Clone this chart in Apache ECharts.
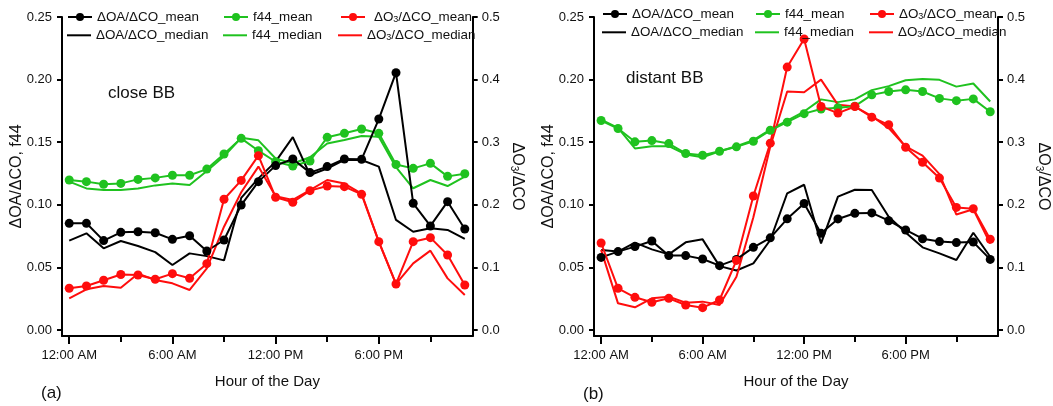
<!DOCTYPE html>
<html>
<head>
<meta charset="utf-8">
<script src="https://cdn.jsdelivr.net/npm/echarts@6/dist/echarts.min.js"></script>
<style>
  html, body { margin: 0; padding: 0; background: #fff; }
  #chart { width: 1053px; height: 406px; }
</style>
</head>
<body>
<div id="chart"></div>
<script>
// Diurnal profiles (hour 0..23) for close and distant biomass-burning plumes.
const hourTicks = [0, 6, 12, 18];
const hourTickLabels = ['12:00 AM', '6:00 AM', '12:00 PM', '6:00 PM'];
const minorHourTicks = [3, 9, 15, 21];
const leftTicks = [0, 0.05, 0.10, 0.15, 0.20, 0.25];
const rightTicks = [0, 0.1, 0.2, 0.3, 0.4, 0.5];

// (a) close BB
const oaMeanA   = [0.0852, 0.0852, 0.0714, 0.0780, 0.0785, 0.0777, 0.0724, 0.0753, 0.0631, 0.0719, 0.0998, 0.1185, 0.1313, 0.1366, 0.1257, 0.1305, 0.1366, 0.1363, 0.1685, 0.2055, 0.1012, 0.0831, 0.1025, 0.0807];
const oaMedianA = [0.0714, 0.0772, 0.0652, 0.0711, 0.0671, 0.0622, 0.0519, 0.0612, 0.0590, 0.0556, 0.1055, 0.1211, 0.1345, 0.1540, 0.1238, 0.1290, 0.1358, 0.1358, 0.1305, 0.0879, 0.0785, 0.0812, 0.0799, 0.0727];
const f44MeanA   = [0.1198, 0.1185, 0.1164, 0.1171, 0.1203, 0.1215, 0.1236, 0.1236, 0.1285, 0.1406, 0.1531, 0.1432, 0.1344, 0.1310, 0.1350, 0.1539, 0.1571, 0.1605, 0.1571, 0.1322, 0.1291, 0.1331, 0.1227, 0.1248];
const f44MedianA = [0.1185, 0.1131, 0.1118, 0.1118, 0.1131, 0.1155, 0.1170, 0.1158, 0.1270, 0.1388, 0.1535, 0.1515, 0.1370, 0.1330, 0.1380, 0.1490, 0.1518, 0.1550, 0.1544, 0.1300, 0.1132, 0.1198, 0.1150, 0.1225];
const o3MeanA   = [0.0666, 0.0703, 0.0795, 0.0887, 0.0879, 0.0810, 0.0900, 0.0826, 0.1060, 0.2088, 0.2390, 0.2785, 0.2120, 0.2040, 0.2226, 0.2300, 0.2290, 0.2167, 0.1411, 0.0735, 0.1411, 0.1475, 0.1198, 0.0719];
const o3MedianA = [0.0506, 0.0650, 0.0703, 0.0676, 0.0900, 0.0800, 0.0745, 0.0639, 0.0985, 0.1650, 0.2200, 0.2610, 0.2135, 0.2077, 0.2236, 0.2396, 0.2340, 0.2180, 0.1411, 0.0735, 0.1065, 0.1267, 0.0825, 0.0559];

// (b) distant BB
const oaMeanB   = [0.0580, 0.0626, 0.0666, 0.0711, 0.0594, 0.0594, 0.0567, 0.0514, 0.0564, 0.0660, 0.0736, 0.0888, 0.1010, 0.0772, 0.0887, 0.0932, 0.0935, 0.0873, 0.0799, 0.0729, 0.0706, 0.0698, 0.0702, 0.0564];
const oaMedianB = [0.0639, 0.0626, 0.0698, 0.0644, 0.0604, 0.0700, 0.0724, 0.0510, 0.0475, 0.0532, 0.0719, 0.1092, 0.1160, 0.0692, 0.1065, 0.1120, 0.1118, 0.0905, 0.0778, 0.0660, 0.0612, 0.0559, 0.0777, 0.0585];
const f44MeanB   = [0.1673, 0.1609, 0.1503, 0.1513, 0.1489, 0.1410, 0.1396, 0.1428, 0.1463, 0.1508, 0.1595, 0.1660, 0.1728, 0.1765, 0.1776, 0.1788, 0.1878, 0.1905, 0.1918, 0.1905, 0.1850, 0.1832, 0.1846, 0.1743];
const f44MedianB = [0.1681, 0.1614, 0.1450, 0.1468, 0.1468, 0.1402, 0.1380, 0.1428, 0.1468, 0.1516, 0.1600, 0.1672, 0.1745, 0.1842, 0.1820, 0.1842, 0.1916, 0.1948, 0.1995, 0.2005, 0.1998, 0.1944, 0.1969, 0.1825];
const o3MeanB   = [0.1390, 0.0666, 0.0522, 0.0442, 0.0506, 0.0399, 0.0357, 0.0479, 0.1112, 0.2140, 0.2985, 0.4200, 0.4649, 0.3570, 0.3465, 0.3570, 0.3400, 0.3278, 0.2920, 0.2680, 0.2427, 0.1958, 0.1937, 0.1450];
const o3MedianB = [0.1280, 0.0426, 0.0362, 0.0506, 0.0532, 0.0437, 0.0453, 0.0399, 0.0850, 0.1800, 0.2930, 0.3810, 0.3797, 0.4000, 0.3597, 0.3570, 0.3417, 0.3225, 0.2932, 0.2786, 0.2490, 0.1844, 0.1928, 0.1380];

const FONT = '"Liberation Sans", Arial, sans-serif';
const INK = '#111';
const BLACK = '#000000';
const GREEN = '#1fc21f';
const RED = '#ff0d0d';

const SUB = { sub: { fontSize: 9, verticalAlign: 'bottom', lineHeight: 14, fontFamily: FONT, color: INK } };
const legendText = {
  'ΔOA/ΔCO_mean': 'ΔOA/ΔCO_mean',
  'ΔOA/ΔCO_median': 'ΔOA/ΔCO_median',
  'f44_mean': 'f44_mean',
  'f44_median': 'f44_median',
  'ΔO3/ΔCO_mean': 'ΔO{sub|3}/ΔCO_mean',
  'ΔO3/ΔCO_median': 'ΔO{sub|3}/ΔCO_median'
};

const toPairs = arr => arr.map((v, i) => [i, v]);

const panels = [
  { grid: { left: 62, right: 580.3, top: 17, bottom: 70 },
    oaMean: oaMeanA, oaMedian: oaMedianA, f44Mean: f44MeanA, f44Median: f44MedianA, o3Mean: o3MeanA, o3Median: o3MedianA },
  { grid: { left: 594, right: 50.3, top: 17, bottom: 70 },
    oaMean: oaMeanB, oaMedian: oaMedianB, f44Mean: f44MeanB, f44Median: f44MedianB, o3Mean: o3MeanB, o3Median: o3MedianB }
];

const axisLineStyle = { color: BLACK, width: 2 };
const labelStyle = { fontSize: 13, color: INK, fontFamily: FONT };

const grid = [], xAxis = [], yAxis = [], series = [];

panels.forEach((p, gi) => {
  grid.push(p.grid);
  // main hour axis with labelled ticks
  xAxis.push({
    gridIndex: gi, type: 'value', min: -0.42, max: 23.46, position: 'bottom',
    axisLine: { show: true, onZero: false, lineStyle: axisLineStyle },
    axisTick: { show: true, customValues: hourTicks, length: 8, lineStyle: { color: BLACK, width: 2 } },
    axisLabel: Object.assign({ customValues: hourTicks, margin: 13,
      formatter: v => hourTickLabels[hourTicks.indexOf(v)] }, labelStyle),
    splitLine: { show: false },
    name: 'Hour of the Day', nameLocation: 'middle', nameGap: 38,
    nameTextStyle: { fontSize: 15, color: INK, fontFamily: FONT }
  });
  // short in-between ticks every 3 hours
  xAxis.push({
    gridIndex: gi, type: 'value', min: -0.42, max: 23.46, position: 'bottom',
    axisLine: { show: false, onZero: false },
    axisTick: { show: true, customValues: minorHourTicks, length: 6, lineStyle: { color: BLACK, width: 2 } },
    axisLabel: { show: false },
    splitLine: { show: false }
  });
  yAxis.push({
    gridIndex: gi, type: 'value', position: 'left', min: -0.0048, max: 0.25,
    axisLine: { show: true, onZero: false, lineStyle: axisLineStyle },
    axisTick: { show: true, customValues: leftTicks, length: 5, lineStyle: { color: BLACK, width: 2 } },
    axisLabel: Object.assign({ customValues: leftTicks, margin: 10, formatter: v => v.toFixed(2) }, labelStyle),
    splitLine: { show: false },
    name: 'ΔOA/ΔCO, f44', nameLocation: 'middle', nameGap: 37, nameMoveOverlap: false,
    nameTextStyle: { fontSize: 16, color: INK, fontFamily: FONT }
  });
  yAxis.push({
    gridIndex: gi, type: 'value', position: 'right', min: -0.0096, max: 0.5,
    axisLine: { show: true, onZero: false, lineStyle: axisLineStyle },
    axisTick: { show: true, customValues: rightTicks, length: 5, lineStyle: { color: BLACK, width: 2 } },
    axisLabel: Object.assign({ customValues: rightTicks, margin: 9, formatter: v => v.toFixed(1) }, labelStyle),
    splitLine: { show: false },
    name: 'ΔO{sub|3}/ΔCO', nameLocation: 'middle', nameGap: 36, nameRotate: -90, nameMoveOverlap: false,
    nameTextStyle: { fontSize: 16, color: INK, fontFamily: FONT, lineHeight: 18,
      rich: { sub: { fontSize: 10, verticalAlign: 'bottom', lineHeight: 16, fontFamily: FONT, color: INK } } }
  });

  const xi = gi * 2, yl = gi * 2, yr = gi * 2 + 1;
  const meanLine = (name, data, color, yIdx) => ({
    name, type: 'line', xAxisIndex: xi, yAxisIndex: yIdx, data: toPairs(data),
    symbol: 'circle', symbolSize: 9, showSymbol: true,
    lineStyle: { color, width: 2 }, itemStyle: { color }, animation: false, z: 3
  });
  const medianLine = (name, data, color, yIdx) => ({
    name, type: 'line', xAxisIndex: xi, yAxisIndex: yIdx, data: toPairs(data),
    symbol: 'none', lineStyle: { color, width: 2 }, itemStyle: { color }, animation: false, z: 2
  });
  series.push(
    medianLine('f44_median', p.f44Median, GREEN, yl),
    meanLine('f44_mean', p.f44Mean, GREEN, yl),
    medianLine('ΔOA/ΔCO_median', p.oaMedian, BLACK, yl),
    meanLine('ΔOA/ΔCO_mean', p.oaMean, BLACK, yl),
    medianLine('ΔO3/ΔCO_median', p.o3Median, RED, yr),
    meanLine('ΔO3/ΔCO_mean', p.o3Mean, RED, yr)
  );
});

// Legend: one small component per entry so columns line up as in a plot key.
const legendTextStyle = { fontSize: 13.4, color: INK, fontFamily: FONT, lineHeight: 14, rich: SUB };
const meanKey = (left, cy, name, padLeft) => ({
  left, top: cy - 7, itemWidth: 24, itemHeight: 10, padding: 0, selectedMode: false,
  data: [name], formatter: n => legendText[n],
  textStyle: Object.assign({}, legendTextStyle, padLeft ? { padding: [0, 0, 0, padLeft] } : {})
});
const medianKey = (left, cy, name) => ({
  left, top: cy - 7, itemWidth: 24, itemHeight: 2, padding: 0, selectedMode: false,
  data: [{ name, icon: 'rect' }], formatter: n => legendText[n],
  textStyle: legendTextStyle
});

const legend = [
  meanKey(67, 17, 'ΔOA/ΔCO_mean'),
  medianKey(67, 35.3, 'ΔOA/ΔCO_median'),
  meanKey(223, 17, 'f44_mean'),
  medianKey(223, 35.3, 'f44_median'),
  meanKey(340, 17, 'ΔO3/ΔCO_mean', 4),
  medianKey(338, 35.3, 'ΔO3/ΔCO_median'),
  meanKey(602, 14, 'ΔOA/ΔCO_mean'),
  medianKey(602, 32.3, 'ΔOA/ΔCO_median'),
  meanKey(755, 14, 'f44_mean'),
  medianKey(755, 32.3, 'f44_median'),
  meanKey(869, 14, 'ΔO3/ΔCO_mean'),
  medianKey(869, 32.3, 'ΔO3/ΔCO_median')
];

const note = (x, y, text, size) => ({
  type: 'text', x, y, silent: true,
  style: { text, fontSize: size, fontFamily: FONT, fill: INK, align: 'left', verticalAlign: 'middle' }
});

const option = {
  backgroundColor: '#fff',
  animation: false,
  grid, xAxis, yAxis, series, legend,
  graphic: [
    note(108, 93, 'close BB', 17),
    note(626, 78, 'distant BB', 17),
    note(41, 393, '(a)', 17),
    note(583, 394, '(b)', 17)
  ]
};

const chart = echarts.init(document.getElementById('chart'), null, { renderer: 'canvas' });
chart.setOption(option);
</script>
</body>
</html>
